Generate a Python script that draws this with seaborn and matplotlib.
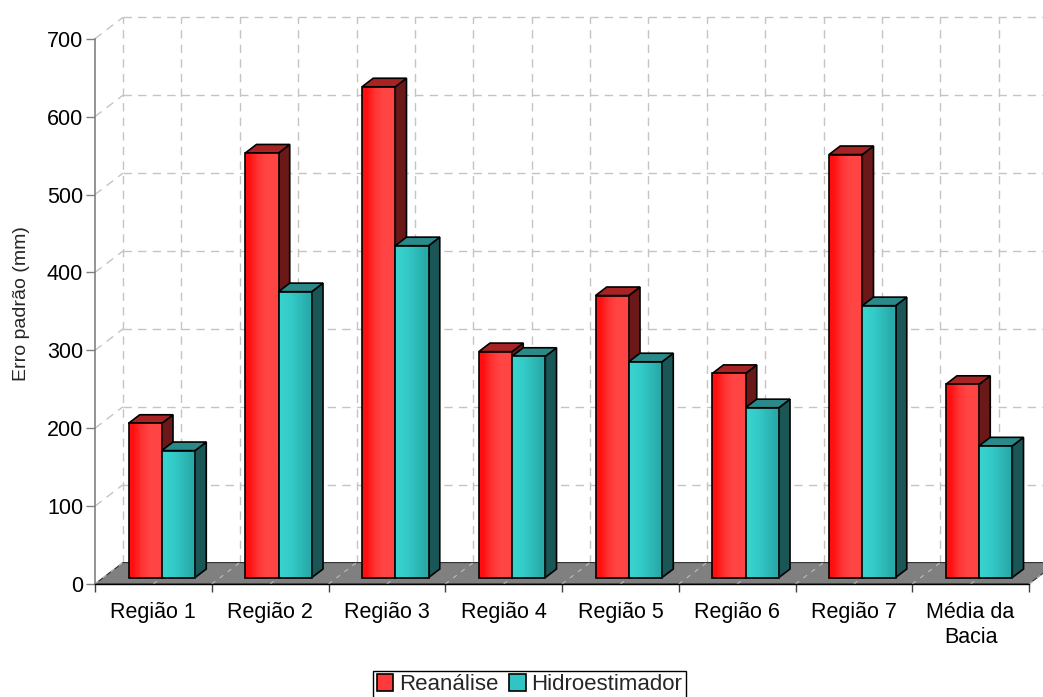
import numpy as np
import pandas as pd
import matplotlib
matplotlib.use("Agg")
import matplotlib.pyplot as plt
from matplotlib.patches import Polygon, Patch
import seaborn as sns

# dados
regioes = ["Região 1", "Região 2", "Região 3", "Região 4", "Região 5",
           "Região 6", "Região 7", "Média da\nBacia"]
reanalise = [198, 545, 630, 290, 362, 262, 543, 248]
hidroestimador = [163, 367, 426, 284, 277, 218, 349, 169]
series = ["Reanálise", "Hidroestimador"]
yticks = [0, 100, 200, 300, 400, 500, 600, 700]

df = pd.DataFrame({
    "regiao": regioes * 2,
    "serie": [series[0]] * len(regioes) + [series[1]] * len(regioes),
    "erro": reanalise + hidroestimador,
})

sns.set_theme(style="white")
plt.rcParams['font.family'] = ['Liberation Sans', 'DejaVu Sans']

W, H = 1043, 697
fig = plt.figure(figsize=(W / 100, H / 100), dpi=100)
# eixo frontal: x 95..1029 px, y 0 em 584 px, 700 em 38.7 px
ax = fig.add_axes([95 / W, 113 / H, 934 / W, 545.3 / H])

n = len(regioes)
DX, DY = 0.24, 27.5          # profundidade do "3D" (em unidades de dados)
f0, f1 = 0.30, 0.70          # plano frontal / traseiro das barras
cores = ["#ff3a3a", "#30c4c4"]

sns.barplot(data=df, x="regiao", y="erro", hue="serie", order=regioes,
            hue_order=series, palette=cores, width=0.57, errorbar=None,
            legend=False, saturation=1, edgecolor="black", linewidth=1.2, ax=ax)
bars = list(ax.patches)

# parede do fundo (grade tracejada)
grid_kw = dict(color="#c4c4c4", lw=1.0, dashes=(6, 4.5), clip_on=False, zorder=0.5)
for v in yticks:
    ax.plot([DX, n + DX], [v + DY, v + DY], **grid_kw)
    ax.plot([0, DX], [v, v + DY], **grid_kw)
for k in range(2 * n + 1):
    xb = DX + 0.5 * k
    ax.plot([xb, xb], [DY, 700 + DY], **grid_kw)

# piso
ax.add_patch(Polygon([(0, 0), (n, 0), (n + DX, DY), (DX, DY)], closed=True,
                     facecolor="#808080", edgecolor="#303030", lw=0.8,
                     clip_on=False, zorder=1))
for k in range(2 * n + 1):
    ax.plot([0.5 * k, 0.5 * k + DX], [0, DY], color="#bdbdbd", lw=0.8,
            dashes=(4, 5), clip_on=False, zorder=1.2)

# faces das barras
grad = {
    0: [(1.00, 0.06, 0.06), (1.00, 0.20, 0.20), (1.00, 0.27, 0.27), (1.00, 0.27, 0.27)],
    1: [(0.22, 0.82, 0.80), (0.20, 0.79, 0.78), (0.18, 0.73, 0.72), (0.16, 0.67, 0.67)],
}
topo = {0: "#a82424", 1: "#2a8a8a"}
lado = {0: "#6a1818", 1: "#1b5656"}
bdx, bdy = (f1 - f0) * DX, (f1 - f0) * DY

ordem = sorted(range(len(bars)), key=lambda i: bars[i].get_x())
for rank, i in enumerate(ordem):
    b = bars[i]
    s = 0 if i < n else 1
    b.set_x(b.get_x() + 0.5 + f0 * DX)
    b.set_y(f0 * DY)
    x0, y0, w, h = b.get_x(), b.get_y(), b.get_width(), b.get_height()
    z = 3 + rank * 0.01
    ax.add_patch(Polygon([(x0 + w, y0), (x0 + w + bdx, y0 + bdy),
                          (x0 + w + bdx, y0 + h + bdy), (x0 + w, y0 + h)],
                         closed=True, facecolor=lado[s], edgecolor="black",
                         lw=1.2, clip_on=False, zorder=z))
    ax.add_patch(Polygon([(x0, y0 + h), (x0 + w, y0 + h),
                          (x0 + w + bdx, y0 + h + bdy), (x0 + bdx, y0 + h + bdy)],
                         closed=True, facecolor=topo[s], edgecolor="black",
                         lw=1.2, clip_on=False, zorder=z))
    img = np.array([grad[s]])
    im = ax.imshow(img, extent=[x0, x0 + w, y0, y0 + h], aspect="auto",
                   interpolation="bilinear", zorder=z + 0.002)
    b.set_clip_on(False)
    im.set_clip_path(b)
    b.set_facecolor("none")
    b.set_zorder(z + 0.004)

ax.set_xlim(0, n)
ax.set_ylim(0, 700)

# eixos
ax.set_yticks(yticks)
ax.set_yticklabels([str(v) for v in yticks], fontsize=15.5, color="black")
ax.set_xticks(np.arange(n + 1))
ax.set_xticklabels([])
ax.set_xticks(np.arange(n) + 0.5, minor=True)
ax.set_xticklabels(regioes, minor=True, fontsize=15.5, color="black",
                   linespacing=1.25)
ax.tick_params(axis="y", left=True, length=6.5, width=1, color="#808080", pad=2)
ax.tick_params(axis="x", which="major", bottom=True, length=6, width=1,
               color="#404040")
ax.tick_params(axis="x", which="minor", bottom=False, length=0, pad=13)
ax.set_xlabel("")
ax.set_ylabel("")
for sp in ["top", "right"]:
    ax.spines[sp].set_visible(False)
ax.spines["left"].set_color("#808080")
ax.spines["left"].set_linewidth(1.2)
ax.spines["bottom"].set_color("black")
ax.spines["bottom"].set_linewidth(1.0)
ax.spines["left"].set_zorder(2)
ax.spines["bottom"].set_zorder(2)
ax.set_facecolor("none")
ax.grid(False)

fig.text(22 / W, 1 - 304 / H, "Erro padrão (mm)", rotation=90, ha="center",
         va="center", fontsize=14)

handles = [Patch(facecolor=cores[0], edgecolor="black", lw=1.2),
           Patch(facecolor=cores[1], edgecolor="black", lw=1.2)]
leg = fig.legend(handles, series, loc="upper center",
                 bbox_to_anchor=(529.5 / W, 1 - 671 / H), ncol=2, fontsize=16,
                 frameon=True, fancybox=False, edgecolor="black", framealpha=1,
                 borderaxespad=0, borderpad=0.15, handlelength=0.75,
                 handleheight=0.75, handletextpad=0.25, columnspacing=0.5)
leg.get_frame().set_linewidth(1.0)

fig.savefig("out.png", dpi=100)
